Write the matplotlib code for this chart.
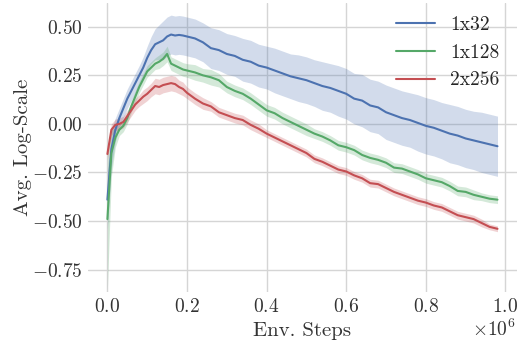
import numpy as np
import matplotlib
matplotlib.use("Agg")
import matplotlib.pyplot as plt
import seaborn as sns

sns.set_style("whitegrid")
plt.rcParams['font.family'] = 'serif'
plt.rcParams['font.serif'] = ['cmr10', 'DejaVu Serif']
plt.rcParams['mathtext.fontset'] = 'cm'
plt.rcParams['axes.formatter.use_mathtext'] = True

# env steps (in units of 1e6)
steps = [0.00, 0.01, 0.02, 0.03, 0.04, 0.05, 0.06, 0.07, 0.08, 0.09,
         0.10, 0.11, 0.12, 0.13, 0.14, 0.15, 0.16, 0.17, 0.18, 0.19,
         0.20, 0.22, 0.24, 0.26, 0.28, 0.30, 0.32, 0.34, 0.36, 0.38,
         0.40, 0.42, 0.44, 0.46, 0.48, 0.50, 0.52, 0.54, 0.56, 0.58,
         0.60, 0.62, 0.64, 0.66, 0.68, 0.70, 0.72, 0.74, 0.76, 0.78,
         0.80, 0.82, 0.84, 0.86, 0.88, 0.90, 0.92, 0.94, 0.96, 0.98]

mean_1x32 = [-0.39, -0.13, -0.03, 0.03, 0.08, 0.13, 0.17, 0.21, 0.25, 0.29,
             0.34, 0.38, 0.41, 0.42, 0.43, 0.45, 0.46, 0.455, 0.458, 0.455,
             0.45, 0.44, 0.42, 0.39, 0.38, 0.36, 0.35, 0.33, 0.32, 0.30,
             0.29, 0.275, 0.26, 0.245, 0.235, 0.225, 0.21, 0.195, 0.185, 0.17,
             0.155, 0.13, 0.12, 0.095, 0.085, 0.06, 0.045, 0.03, 0.02, 0.005,
             -0.01, -0.02, -0.035, -0.05, -0.06, -0.075, -0.085, -0.095, -0.105, -0.115]
std_1x32 = [0.15, 0.10, 0.06, 0.05, 0.05, 0.05, 0.05, 0.05, 0.05, 0.055,
            0.06, 0.07, 0.08, 0.09, 0.10, 0.10, 0.10, 0.10, 0.10, 0.10,
            0.10, 0.10, 0.10, 0.105, 0.105, 0.105, 0.105, 0.11, 0.11, 0.11,
            0.11, 0.115, 0.115, 0.115, 0.12, 0.12, 0.12, 0.125, 0.125, 0.13,
            0.13, 0.13, 0.135, 0.135, 0.135, 0.14, 0.14, 0.14, 0.14, 0.145,
            0.145, 0.145, 0.145, 0.15, 0.15, 0.15, 0.15, 0.155, 0.155, 0.155]

mean_1x128 = [-0.49, -0.15, -0.07, -0.03, -0.01, 0.03, 0.09, 0.14, 0.19, 0.23,
              0.27, 0.29, 0.31, 0.32, 0.335, 0.36, 0.31, 0.30, 0.29, 0.28,
              0.275, 0.265, 0.25, 0.24, 0.225, 0.19, 0.17, 0.155, 0.13, 0.10,
              0.07, 0.055, 0.03, 0.01, -0.01, -0.03, -0.05, -0.065, -0.085, -0.11,
              -0.12, -0.135, -0.16, -0.175, -0.185, -0.20, -0.225, -0.23, -0.245, -0.26,
              -0.28, -0.29, -0.30, -0.32, -0.345, -0.35, -0.365, -0.375, -0.385, -0.39]
std_1x128 = [0.36, 0.12, 0.05, 0.03, 0.03, 0.03, 0.03, 0.03, 0.03, 0.03,
             0.03, 0.03, 0.03, 0.035, 0.035, 0.04, 0.035, 0.035, 0.035, 0.035,
             0.035, 0.04, 0.035, 0.04, 0.035, 0.03, 0.03, 0.03, 0.03, 0.03,
             0.03, 0.03, 0.03, 0.03, 0.03, 0.03, 0.025, 0.025, 0.025, 0.025,
             0.025, 0.025, 0.025, 0.025, 0.025, 0.025, 0.025, 0.025, 0.025, 0.025,
             0.025, 0.025, 0.025, 0.025, 0.025, 0.025, 0.025, 0.02, 0.02, 0.02]

mean_2x256 = [-0.155, -0.03, -0.005, 0.0, 0.01, 0.04, 0.07, 0.10, 0.12, 0.14,
              0.155, 0.175, 0.195, 0.19, 0.20, 0.205, 0.21, 0.205, 0.19, 0.18,
              0.16, 0.13, 0.105, 0.09, 0.06, 0.045, 0.03, 0.02, -0.005, -0.025,
              -0.05, -0.07, -0.09, -0.11, -0.13, -0.15, -0.18, -0.195, -0.215, -0.235,
              -0.245, -0.265, -0.28, -0.305, -0.31, -0.33, -0.35, -0.365, -0.38, -0.395,
              -0.405, -0.42, -0.43, -0.45, -0.47, -0.48, -0.49, -0.51, -0.53, -0.54]
std_2x256 = [0.03, 0.03, 0.03, 0.03, 0.03, 0.03, 0.03, 0.03, 0.03, 0.035,
             0.035, 0.035, 0.04, 0.04, 0.04, 0.04, 0.04, 0.04, 0.035, 0.035,
             0.03, 0.03, 0.03, 0.025, 0.025, 0.025, 0.025, 0.025, 0.025, 0.025,
             0.02, 0.02, 0.02, 0.02, 0.02, 0.02, 0.02, 0.02, 0.02, 0.02,
             0.02, 0.02, 0.02, 0.02, 0.02, 0.02, 0.02, 0.02, 0.02, 0.02,
             0.02, 0.02, 0.02, 0.02, 0.02, 0.02, 0.02, 0.02, 0.015, 0.015]

labels = ['1x32', '1x128', '2x256']
colors = ['#4C72B0', '#55A868', '#C44E52']

x = np.array(steps) * 1e6
fig = plt.figure(figsize=(5.17, 3.41), dpi=100)
ax = fig.add_axes([0.170, 0.145, 0.830, 0.846])

for m, s, lab, c in zip([mean_1x32, mean_1x128, mean_2x256],
                        [std_1x32, std_1x128, std_2x256], labels, colors):
    m = np.array(m)
    s = np.array(s)
    ax.fill_between(x, m - s, m + s, color=c, alpha=0.25, lw=0)
    ax.plot(x, m, color=c, lw=1.5, label=lab)

ax.set_xlim(-0.049e6, 1.029e6)
ax.set_ylim(-0.863, 0.622)
ax.set_xticks([0, 0.2e6, 0.4e6, 0.6e6, 0.8e6, 1.0e6])
ax.set_xticklabels(['$0.0$', '$0.2$', '$0.4$', '$0.6$', '$0.8$', '$1.0$'])
ax.set_yticks([-0.75, -0.5, -0.25, 0, 0.25, 0.5])
ax.yaxis.set_major_formatter(matplotlib.ticker.FormatStrFormatter('$%.2f$'))
ax.tick_params(labelsize=14, colors='#333333', length=0)
ax.tick_params(axis='x', pad=5)
ax.set_xlabel('Env. Steps', fontsize=15, color='#333333')
ax.set_ylabel('Avg. Log-Scale', fontsize=15, color='#333333')
ax.xaxis.set_label_coords(0.5, -0.105)
ax.yaxis.set_label_coords(-0.13, 0.5)
# scale factor for the x axis, placed like matplotlib's offset text
fig.text(0.998, 0.002, r'$\times10^{6}$', ha='right', va='bottom',
         fontsize=14, color='#333333')
for sp in ax.spines.values():
    sp.set_visible(False)
ax.grid(True, color='#d5d5d5', lw=1)
ax.legend(loc='upper right', frameon=False, fontsize=14,
          bbox_to_anchor=(1.0, 1.015))

fig.savefig('out.png', dpi=100)
